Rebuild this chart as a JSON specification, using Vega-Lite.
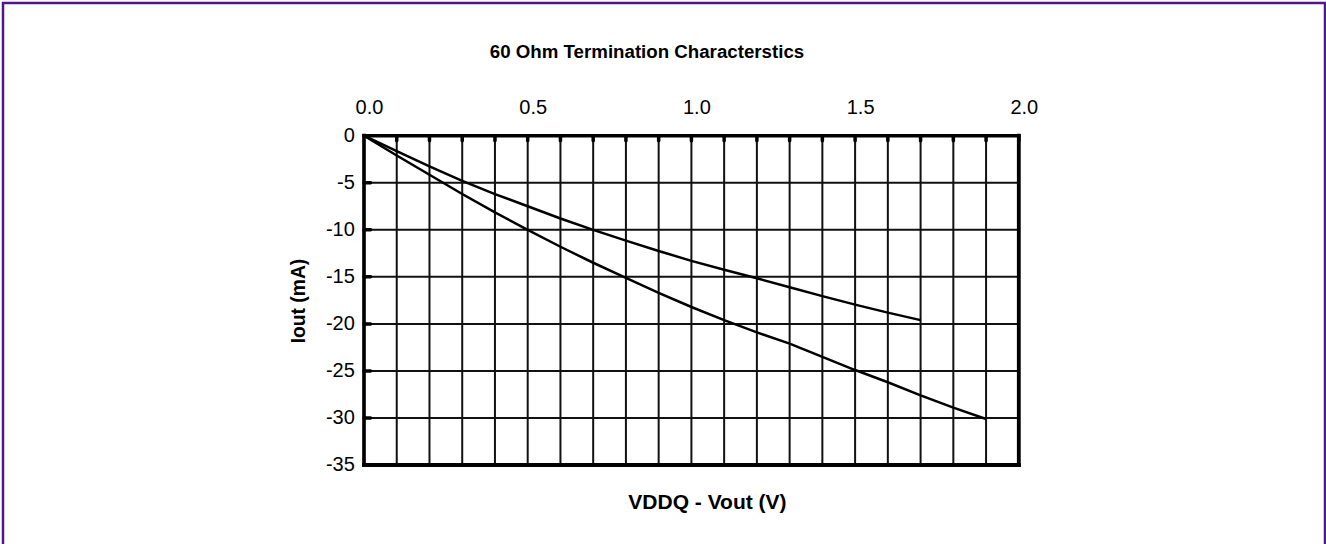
{
  "$schema": "https://vega.github.io/schema/vega-lite/v6.json",
  "width": 1322,
  "height": 545,
  "autosize": {"type": "none"},
  "padding": {"left": 3, "top": 3, "right": 1, "bottom": 0},
  "background": "white",
  "config": {"view": {"stroke": "#50168c", "strokeWidth": 2.5}, "font": "Liberation Sans"},
  "layer": [
    {
      "data": {"values": [{"V":0.1},{"V":0.2},{"V":0.3},{"V":0.4},{"V":0.5},{"V":0.6},{"V":0.7},{"V":0.8},{"V":0.9},{"V":1.0},{"V":1.1},{"V":1.2},{"V":1.3},{"V":1.4},{"V":1.5},{"V":1.6},{"V":1.7},{"V":1.8},{"V":1.9}]},
      "mark": {"type": "rule", "color": "#111", "strokeWidth": 2},
      "encoding": {
        "x": {"field": "V", "type": "quantitative", "axis": null,
          "scale": {"domain": [-1.1026, 2.9352], "nice": false, "zero": false}},
        "y": {"datum": 0, "type": "quantitative", "axis": null,
          "scale": {"domain": [-43.81, 14.10], "nice": false, "zero": false}},
        "y2": {"datum": -35}
      }
    },
    {
      "data": {"values": [{"I":-5},{"I":-10},{"I":-15},{"I":-20},{"I":-25},{"I":-30}]},
      "mark": {"type": "rule", "color": "#111", "strokeWidth": 2},
      "encoding": {
        "y": {"field": "I", "type": "quantitative", "axis": null},
        "x": {"datum": 0, "type": "quantitative", "axis": null},
        "x2": {"datum": 2}
      }
    },
    {
      "data": {"values": [
        {"edge": "right", "x": 2, "x2": 2, "y": 0, "y2": -35},
        {"edge": "bottom", "x": 0, "x2": 2, "y": -35, "y2": -35},
        {"edge": "top", "x": 0, "x2": 2, "y": 0, "y2": 0},
        {"edge": "left", "x": 0, "x2": 0, "y": 0, "y2": -35}
      ]},
      "mark": {"type": "rule", "color": "#000", "strokeCap": "square"},
      "encoding": {
        "x": {"field": "x", "type": "quantitative", "axis": null},
        "x2": {"field": "x2"},
        "y": {"field": "y", "type": "quantitative", "axis": null},
        "y2": {"field": "y2"},
        "strokeWidth": {"field": "edge", "type": "nominal", "legend": null,
          "scale": {"domain": ["top", "left", "right", "bottom"], "range": [3.5, 4, 2.5, 2.5]}}
      }
    },
    {
      "data": {"values": [{"V":0.1},{"V":0.2},{"V":0.3},{"V":0.4},{"V":0.5},{"V":0.6},{"V":0.7},{"V":0.8},{"V":0.9},{"V":1.0},{"V":1.1},{"V":1.2},{"V":1.3},{"V":1.4},{"V":1.5},{"V":1.6},{"V":1.7},{"V":1.8},{"V":1.9},{"V":2.0}]},
      "mark": {"type": "rule", "color": "#000", "strokeWidth": 3.5, "strokeCap": "round"},
      "encoding": {
        "x": {"field": "V", "type": "quantitative", "axis": null},
        "y": {"datum": 0, "type": "quantitative", "axis": null},
        "y2": {"datum": -0.55}
      }
    },
    {
      "data": {"values": [{"I":-5},{"I":-10},{"I":-15},{"I":-20},{"I":-25},{"I":-30},{"I":-35}]},
      "mark": {"type": "rule", "color": "#000", "strokeWidth": 3.5, "strokeCap": "round"},
      "encoding": {
        "y": {"field": "I", "type": "quantitative", "axis": null},
        "x": {"datum": 0, "type": "quantitative", "axis": null},
        "x2": {"datum": 0.02}
      }
    },
    {
      "data": {"values": [
        {"series": "A", "V": 0.0, "I": 0.0},
        {"series": "A", "V": 0.1, "I": -1.65},
        {"series": "A", "V": 0.2, "I": -3.25},
        {"series": "A", "V": 0.3, "I": -4.8},
        {"series": "A", "V": 0.4, "I": -6.2},
        {"series": "A", "V": 0.5, "I": -7.5},
        {"series": "A", "V": 0.6, "I": -8.8},
        {"series": "A", "V": 0.7, "I": -10.0},
        {"series": "A", "V": 0.8, "I": -11.15},
        {"series": "A", "V": 0.9, "I": -12.25},
        {"series": "A", "V": 1.0, "I": -13.3},
        {"series": "A", "V": 1.1, "I": -14.25},
        {"series": "A", "V": 1.2, "I": -15.15},
        {"series": "A", "V": 1.3, "I": -16.1},
        {"series": "A", "V": 1.4, "I": -17.05},
        {"series": "A", "V": 1.5, "I": -17.95},
        {"series": "A", "V": 1.6, "I": -18.8},
        {"series": "A", "V": 1.7, "I": -19.6},
        {"series": "B", "V": 0.0, "I": 0.0},
        {"series": "B", "V": 0.1, "I": -2.1},
        {"series": "B", "V": 0.2, "I": -4.15},
        {"series": "B", "V": 0.3, "I": -6.2},
        {"series": "B", "V": 0.4, "I": -8.15},
        {"series": "B", "V": 0.5, "I": -10.0},
        {"series": "B", "V": 0.6, "I": -11.8},
        {"series": "B", "V": 0.7, "I": -13.5},
        {"series": "B", "V": 0.8, "I": -15.1},
        {"series": "B", "V": 0.9, "I": -16.7},
        {"series": "B", "V": 1.0, "I": -18.2},
        {"series": "B", "V": 1.1, "I": -19.6},
        {"series": "B", "V": 1.2, "I": -20.9},
        {"series": "B", "V": 1.3, "I": -22.1},
        {"series": "B", "V": 1.4, "I": -23.5},
        {"series": "B", "V": 1.5, "I": -24.9},
        {"series": "B", "V": 1.6, "I": -26.2},
        {"series": "B", "V": 1.7, "I": -27.6},
        {"series": "B", "V": 1.8, "I": -28.9},
        {"series": "B", "V": 1.9, "I": -30.1}
      ]},
      "mark": {"type": "line", "color": "#000", "strokeWidth": 2.5},
      "encoding": {
        "x": {"field": "V", "type": "quantitative", "axis": null},
        "y": {"field": "I", "type": "quantitative", "axis": null},
        "detail": {"field": "series", "type": "nominal"}
      }
    },
    {
      "data": {"values": [{"V": 0, "lab": "0.0"}, {"V": 0.5, "lab": "0.5"}, {"V": 1.0, "lab": "1.0"}, {"V": 1.5, "lab": "1.5"}, {"V": 2.0, "lab": "2.0"}]},
      "mark": {"type": "text", "font": "Liberation Sans", "fontSize": 20, "color": "#000", "baseline": "alphabetic", "align": "center", "dx": 5.5},
      "encoding": {
        "x": {"field": "V", "type": "quantitative", "axis": null},
        "y": {"datum": 2.3, "type": "quantitative", "axis": null},
        "text": {"field": "lab"}
      }
    },
    {
      "data": {"values": [{"I": 0, "lab": "0"}, {"I": -5, "lab": "-5"}, {"I": -10, "lab": "-10"}, {"I": -15, "lab": "-15"}, {"I": -20, "lab": "-20"}, {"I": -25, "lab": "-25"}, {"I": -30, "lab": "-30"}, {"I": -35, "lab": "-35"}]},
      "mark": {"type": "text", "font": "Liberation Sans", "fontSize": 20, "color": "#000", "baseline": "middle", "align": "right"},
      "encoding": {
        "y": {"field": "I", "type": "quantitative", "axis": null},
        "x": {"datum": -0.028, "type": "quantitative", "axis": null},
        "text": {"field": "lab"}
      }
    },
    {
      "data": {"values": [
        {"label": "60 Ohm Termination Characterstics", "V": 0.8644, "I": 8.93}
      ]},
      "mark": {"type": "text", "font": "Liberation Sans", "fontWeight": "bold", "fontSize": 18.7, "color": "#000", "baseline": "middle", "align": "center"},
      "encoding": {
        "x": {"field": "V", "type": "quantitative", "axis": null},
        "y": {"field": "I", "type": "quantitative", "axis": null},
        "text": {"field": "label"}
      }
    },
    {
      "data": {"values": [
        {"label": "VDDQ - Vout (V)", "V": 1.049, "I": -39.0}
      ]},
      "mark": {"type": "text", "font": "Liberation Sans", "fontWeight": "bold", "fontSize": 21, "color": "#000", "baseline": "middle", "align": "center"},
      "encoding": {
        "x": {"field": "V", "type": "quantitative", "axis": null},
        "y": {"field": "I", "type": "quantitative", "axis": null},
        "text": {"field": "label"}
      }
    },
    {
      "data": {"values": [{"label": "Iout (mA)", "V": -0.1985, "I": -17.57}]},
      "mark": {"type": "text", "font": "Liberation Sans", "fontWeight": "bold", "fontSize": 19.3, "color": "#000", "baseline": "middle", "align": "center", "angle": 270},
      "encoding": {
        "x": {"field": "V", "type": "quantitative", "axis": null},
        "y": {"field": "I", "type": "quantitative", "axis": null},
        "text": {"field": "label"}
      }
    }
  ]
}
